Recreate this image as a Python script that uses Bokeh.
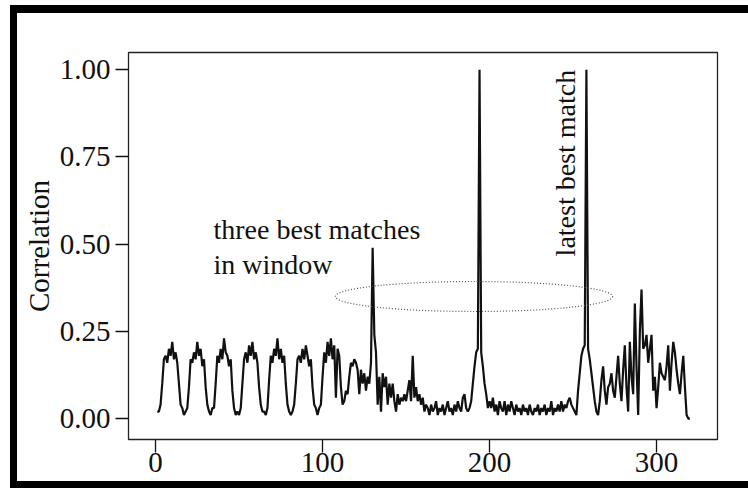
import math
from bokeh.plotting import figure
from bokeh.models import Range1d, FixedTicker, Label, PrintfTickFormatter
from bokeh.embed import file_html
from bokeh.resources import INLINE

# ---- data -------------------------------------------------------------
lag = list(range(1, 321))
corr = [
    0.02, 0.02, 0.04, 0.10, 0.17, 0.18, 0.16, 0.20, 0.18, 0.22,   # 1-10
    0.17, 0.19, 0.16, 0.10, 0.04, 0.03, 0.01, 0.02, 0.03, 0.09,   # 11-20
    0.17, 0.16, 0.19, 0.17, 0.22, 0.18, 0.20, 0.15, 0.17, 0.09,   # 21-30
    0.04, 0.02, 0.01, 0.03, 0.03, 0.10, 0.18, 0.16, 0.20, 0.17,   # 31-40
    0.23, 0.19, 0.18, 0.15, 0.17, 0.08, 0.03, 0.01, 0.02, 0.01,   # 41-50
    0.03, 0.10, 0.17, 0.19, 0.16, 0.21, 0.18, 0.22, 0.17, 0.19,   # 51-60
    0.16, 0.09, 0.04, 0.02, 0.02, 0.01, 0.03, 0.11, 0.18, 0.16,   # 61-70
    0.20, 0.18, 0.23, 0.17, 0.20, 0.16, 0.18, 0.10, 0.04, 0.02,   # 71-80
    0.01, 0.02, 0.04, 0.10, 0.17, 0.18, 0.16, 0.20, 0.17, 0.21,   # 81-90
    0.18, 0.15, 0.17, 0.09, 0.04, 0.03, 0.01, 0.03, 0.04, 0.12,   # 91-100
    0.19, 0.16, 0.22, 0.18, 0.23, 0.17, 0.21, 0.06, 0.20, 0.18,   # 101-110
    0.09, 0.04, 0.05, 0.08, 0.07, 0.12, 0.16, 0.15, 0.17, 0.16,   # 111-120
    0.14, 0.07, 0.14, 0.10, 0.13, 0.08, 0.12, 0.10, 0.16, 0.49,   # 121-130
    0.24, 0.19, 0.04, 0.12, 0.02, 0.13, 0.09, 0.12, 0.04, 0.10,   # 131-140
    0.06, 0.10, 0.05, 0.02, 0.07, 0.04, 0.06, 0.05, 0.07, 0.05,   # 141-150
    0.08, 0.11, 0.05, 0.18, 0.06, 0.09, 0.05, 0.07, 0.04, 0.06,   # 151-160
    0.02, 0.04, 0.03, 0.01, 0.04, 0.02, 0.03, 0.05, 0.01, 0.03,   # 161-170
    0.02, 0.04, 0.01, 0.03, 0.05, 0.02, 0.03, 0.01, 0.04, 0.02,   # 171-180
    0.05, 0.03, 0.02, 0.06, 0.07, 0.03, 0.02, 0.03, 0.05, 0.10,   # 181-190
    0.15, 0.19, 0.20, 1.00, 0.19, 0.15, 0.10, 0.07, 0.03, 0.05,   # 191-200
    0.03, 0.06, 0.02, 0.04, 0.01, 0.05, 0.03, 0.02, 0.05, 0.01,   # 201-210
    0.04, 0.02, 0.05, 0.03, 0.01, 0.04, 0.02, 0.03, 0.01, 0.04,   # 211-220
    0.02, 0.03, 0.01, 0.04, 0.02, 0.01, 0.03, 0.02, 0.04, 0.01,   # 221-230
    0.03, 0.02, 0.04, 0.01, 0.03, 0.02, 0.05, 0.01, 0.03, 0.02,   # 231-240
    0.04, 0.02, 0.05, 0.02, 0.04, 0.03, 0.05, 0.06, 0.04, 0.03,   # 241-250
    0.02, 0.01, 0.08, 0.13, 0.18, 0.20, 0.21, 1.00, 0.20, 0.17,   # 251-260
    0.13, 0.09, 0.05, 0.02, 0.01, 0.05, 0.11, 0.15, 0.08, 0.04,   # 261-270
    0.09, 0.10, 0.13, 0.08, 0.06, 0.12, 0.18, 0.10, 0.05, 0.14,   # 271-280
    0.21, 0.09, 0.02, 0.22, 0.12, 0.07, 0.33, 0.15, 0.01, 0.25,   # 281-290
    0.37, 0.20, 0.21, 0.24, 0.16, 0.20, 0.24, 0.08, 0.12, 0.03,   # 291-300
    0.09, 0.16, 0.13, 0.12, 0.11, 0.15, 0.21, 0.08, 0.16, 0.22,   # 301-310
    0.19, 0.14, 0.10, 0.07, 0.13, 0.18, 0.09, 0.01, 0.00, 0.00,   # 311-320
]
x_ticks = [0, 100, 200, 300]
y_ticks = [0.0, 0.25, 0.5, 0.75, 1.0]
y_label = "Correlation"
note_window = ["three best matches", "in window"]
note_latest = "latest best match"

FONT = "Liberation Serif"
FS_TICK = "29px"
FS_NOTE = "28px"

p = figure(width=738, height=483,
           x_range=Range1d(-16.2, 336.5), y_range=Range1d(-0.060, 1.0496),
           output_backend="svg", toolbar_location=None,
           min_border_left=111, min_border_right=38,
           min_border_top=39, min_border_bottom=57)
# thick black picture border on left, top and bottom (no right edge)
p.styles = {"margin-left": "10px", "margin-top": "5px",
            "border-left": "7px solid black",
            "border-top": "8px solid black",
            "border-bottom": "7px solid black",
            "overflow": "hidden"}
p.background_fill_color = "white"
p.border_fill_color = "white"
p.outline_line_color = "#222222"
p.outline_line_width = 1.3
p.xgrid.visible = False
p.ygrid.visible = False

for ax in (p.xaxis[0], p.yaxis[0]):
    ax.axis_line_color = None
    ax.major_tick_in = 0
    ax.major_tick_out = 13
    ax.major_tick_line_color = "#111111"
    ax.major_tick_line_width = 1.3
    ax.minor_tick_line_color = None
    ax.major_label_text_font = FONT
    ax.major_label_text_font_size = FS_TICK
    ax.major_label_text_color = "#111111"

p.xaxis.ticker = FixedTicker(ticks=x_ticks)
p.yaxis.ticker = FixedTicker(ticks=y_ticks)
p.yaxis.formatter = PrintfTickFormatter(format="%.2f")
p.xaxis.major_label_standoff = 0
p.yaxis.major_label_standoff = 5
p.yaxis.axis_label = y_label
p.yaxis.axis_label_text_font = FONT
p.yaxis.axis_label_text_font_size = FS_TICK
p.yaxis.axis_label_text_font_style = "normal"
p.yaxis.axis_label_text_color = "#111111"
p.yaxis.axis_label_standoff = 2

p.line(lag, corr, line_color="#111111", line_width=2.2)

p.ellipse(x=[190.7], y=[0.35], width=[166], height=[0.086],
          fill_color=None, line_color="#555555", line_width=1.2, line_dash="1 2")

p.add_layout(Label(x=34.7, y=0.542, text=note_window[0], text_font=FONT,
                   text_font_size=FS_NOTE, text_color="#111111",
                   text_baseline="alphabetic", text_align="left"))
p.add_layout(Label(x=34.7, y=0.443, text=note_window[1], text_font=FONT,
                   text_font_size=FS_NOTE, text_color="#111111",
                   text_baseline="alphabetic", text_align="left"))
p.add_layout(Label(x=245.5, y=0.465, text=note_latest, angle=math.pi / 2,
                   text_font=FONT, text_font_size=FS_NOTE, text_color="#111111",
                   text_baseline="alphabetic", text_align="left"))

open("out.html", "w").write(file_html(p, INLINE))
